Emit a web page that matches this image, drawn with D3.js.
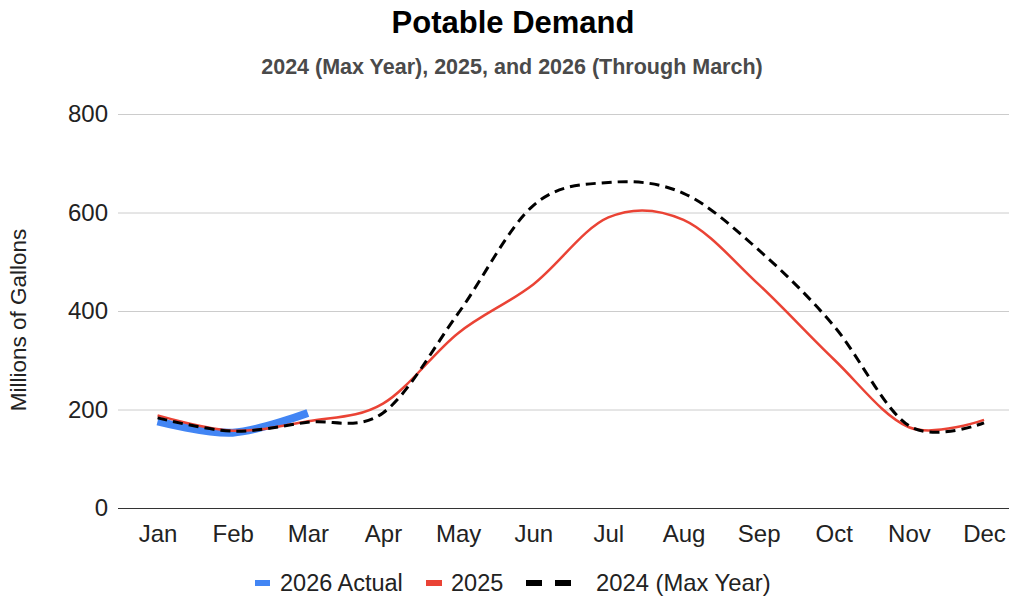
<!DOCTYPE html>
<html>
<head>
<meta charset="utf-8">
<script src="https://cdn.jsdelivr.net/npm/d3@7"></script>
<style>
  html, body { margin: 0; padding: 0; background: #fff; }
  svg { display: block; font-family: "Liberation Sans", Arial, sans-serif; }
</style>
</head>
<body>
<svg id="chart" width="1009" height="598"></svg>
<script>
const months = ["Jan","Feb","Mar","Apr","May","Jun","Jul","Aug","Sep","Oct","Nov","Dec"];
const actual2026 = [176, 153, 193];
const demand2025 = [188, 157, 176, 212, 355, 454, 590, 585, 454, 302, 164, 179];
const demand2024 = [183, 156, 174, 193, 395, 614, 661, 639, 524, 370, 167, 173];
const yTicks = [0, 200, 400, 600, 800];
const legendLabels = ["2026 Actual", "2025", "2024 (Max Year)"];

(function () {
const svg = d3.select("#chart");
const plotLeft = 120, plotRight = 1021.6, plotTop = 114, plotBottom = 508;
const font = "Liberation Sans, Arial, sans-serif";

const x = d3.scalePoint().domain(months).range([plotLeft, plotRight]).padding(0.5);
const y = d3.scaleLinear().domain([0, 800]).range([plotBottom, plotTop]);

// Title
svg.append("text").attr("x", 513).attr("y", 33).attr("text-anchor", "middle")
  .attr("font-size", 31).attr("font-weight", "bold").attr("fill", "#000")
  .text("Potable Demand");
svg.append("text").attr("x", 512).attr("y", 74).attr("text-anchor", "middle")
  .attr("font-size", 21.5).attr("font-weight", "bold").attr("fill", "#4a4a4a")
  .text("2024 (Max Year), 2025, and 2026 (Through March)");

// Gridlines
const yAxis = d3.axisLeft(y).tickValues(yTicks).tickSize(-(1009 - 118)).tickPadding(10).tickFormat(d3.format("d"));
const gy = svg.append("g").attr("transform", "translate(118,0)").call(yAxis);
gy.select(".domain").remove();
gy.selectAll(".tick line").attr("stroke", "#cccccc").attr("stroke-width", 1);
gy.selectAll(".tick text").attr("font-size", 24).attr("fill", "#222").attr("font-family", font);
gy.selectAll(".tick").filter(d => d === 0).select("line").attr("stroke", "#333");

// X axis labels
const xAxis = d3.axisBottom(x).tickSize(0).tickPadding(17);
const gx = svg.append("g").attr("transform", `translate(0,${plotBottom})`).call(xAxis);
gx.select(".domain").remove();
gx.selectAll(".tick text").attr("font-size", 24).attr("fill", "#222").attr("font-family", font);

// Y axis title
svg.append("text").attr("transform", "translate(26,320) rotate(-90)")
  .attr("text-anchor", "middle").attr("font-size", 22.5).attr("fill", "#222")
  .text("Millions of Gallons");

const line = d3.line().x((d, i) => x(months[i])).y(d => y(d)).curve(d3.curveCardinal.tension(0));

svg.append("path").datum(actual2026).attr("d", line)
  .attr("fill", "none").attr("stroke", "#4285F4").attr("stroke-width", 8);
svg.append("path").datum(demand2025).attr("d", line)
  .attr("fill", "none").attr("stroke", "#EA4335").attr("stroke-width", 2.5);
svg.append("path").datum(demand2024).attr("d", line)
  .attr("fill", "none").attr("stroke", "#000").attr("stroke-width", 3).attr("stroke-dasharray", "10,6");

// Legend
const ly = 583;
const lg = svg.append("g");
lg.append("line").attr("x1", 255).attr("x2", 270).attr("y1", ly).attr("y2", ly).attr("stroke", "#4285F4").attr("stroke-width", 6);
lg.append("text").attr("x", 280).attr("y", ly + 8).attr("font-size", 23.5).attr("fill", "#222").text(legendLabels[0]);
lg.append("line").attr("x1", 426).attr("x2", 442).attr("y1", ly).attr("y2", ly).attr("stroke", "#EA4335").attr("stroke-width", 6);
lg.append("text").attr("x", 451).attr("y", ly + 8).attr("font-size", 23.5).attr("fill", "#222").text(legendLabels[1]);
lg.append("line").attr("x1", 526).attr("x2", 571).attr("y1", ly).attr("y2", ly).attr("stroke", "#000").attr("stroke-width", 6).attr("stroke-dasharray", "16,13");
lg.append("text").attr("x", 596).attr("y", ly + 8).attr("font-size", 23.8).attr("fill", "#222").text(legendLabels[2]);
})();
</script>
</body>
</html>
